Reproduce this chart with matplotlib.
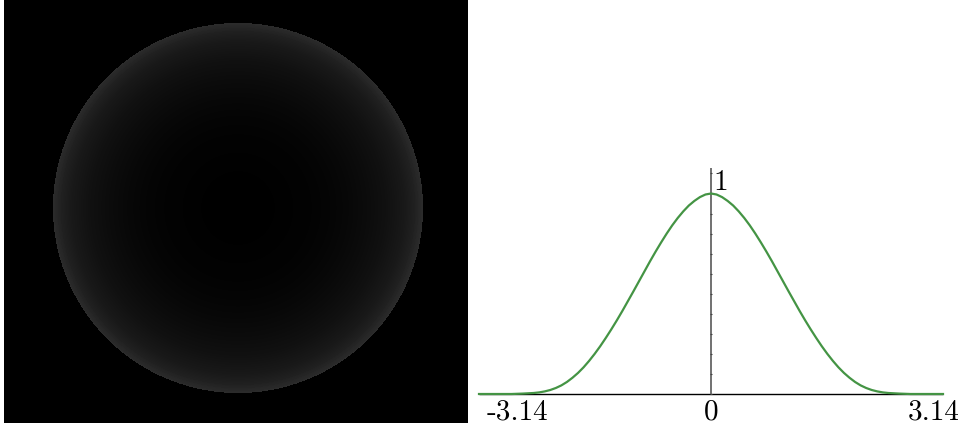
import numpy as np
import matplotlib.pyplot as plt

# radial brightness of the disc (0 = centre, 1 = rim), grey level 0..255
disc_r = [0.0, 0.2, 0.4, 0.5, 0.6, 0.7, 0.8, 0.9, 0.95, 1.0]
disc_grey = [0, 1, 3, 5, 8, 12, 17, 25, 32, 44]

# right half of the curve, mirrored for the left half
curve_x = [0.0, 0.075, 0.15, 0.225, 0.30, 0.375, 0.45, 0.525, 0.60, 0.675,
           0.75, 0.825, 0.90, 0.975, 1.05, 1.125, 1.20, 1.275, 1.35, 1.425,
           1.50, 1.575, 1.65, 1.725, 1.80, 1.875, 1.95, 2.025, 2.10, 2.175,
           2.25, 2.325, 2.40, 2.55, 2.70, 2.90, 3.14]
curve_y = [1.000, 0.995, 0.982, 0.963, 0.940, 0.911, 0.878, 0.841, 0.800,
           0.756, 0.710, 0.662, 0.612, 0.562, 0.512, 0.463, 0.414, 0.367,
           0.322, 0.279, 0.238, 0.200, 0.165, 0.133, 0.105, 0.081, 0.060,
           0.043, 0.030, 0.020, 0.013, 0.008, 0.005, 0.002, 0.000, 0.000,
           0.000]

y_ticks = [0.0, 0.1, 0.2, 0.3, 0.4, 0.5, 0.6, 0.7, 0.8, 0.9, 1.0, 1.1]
x_labels = ["-3.14", "0", "3.14"]

W, H = 963, 432
fig = plt.figure(figsize=(W / 100, H / 100), dpi=100)

# ---- left: disc image ----
img_w, img_h = 464, 423
ax_img = fig.add_axes([4 / W, (H - 423) / H, img_w / W, img_h / H])
yy, xx = np.mgrid[0:img_h, 0:img_w]
cx, cy, rad = 234.0, 208.0, 185.0
r = np.hypot(xx + 0.5 - cx, yy + 0.5 - cy) / rad
grey = np.interp(r, disc_r, disc_grey)
grey[r > 1.0] = 0
ax_img.imshow(grey, cmap="gray", vmin=0, vmax=255, aspect="auto",
              interpolation="bilinear")
ax_img.axis("off")

# ---- right: curve ----
x0_px, x1_px = 479, 943
y0_px = 394
unit_px = 200.5
ymax = 1.15
ax = fig.add_axes([x0_px / W, (H - y0_px) / H, (x1_px - x0_px) / W,
                   ymax * unit_px / H])
ax.set_xlim(-3.14, 3.14)
ax.set_ylim(0, ymax)
ax.axis("off")

xs = [-v for v in curve_x[::-1]] + curve_x[1:]
ys = curve_y[::-1] + curve_y[1:]

ax.plot([-3.14, 3.14], [0, 0], color="black", lw=1.0, clip_on=False,
        solid_capstyle="butt")
ax.plot([0, 0], [0, 1.125], color="#666666", lw=1.3, clip_on=False,
        solid_capstyle="butt")
ax.plot([0] * len(y_ticks), y_ticks, ls="none", marker="_", ms=2.0,
        mew=0.8, color="#444444", clip_on=False)
ax.plot(xs, ys, color="#449444", lw=1.6, clip_on=False, zorder=5)

font = dict(family="cmr10", size=21, color="black")
ax.annotate(x_labels[0], xy=(-3.14, 0), xytext=(8, -26),
            textcoords="offset pixels", ha="left", va="baseline", **font)
ax.annotate(x_labels[1], xy=(0, 0), xytext=(0, -26),
            textcoords="offset pixels", ha="center", va="baseline", **font)
ax.annotate(x_labels[2], xy=(3.14, 0), xytext=(17, -26),
            textcoords="offset pixels", ha="right", va="baseline", **font)
ax.annotate("1", xy=(0, 1), xytext=(2, 3.5),
            textcoords="offset pixels", ha="left", va="baseline", **font)

fig.savefig("out.png", dpi=100)
